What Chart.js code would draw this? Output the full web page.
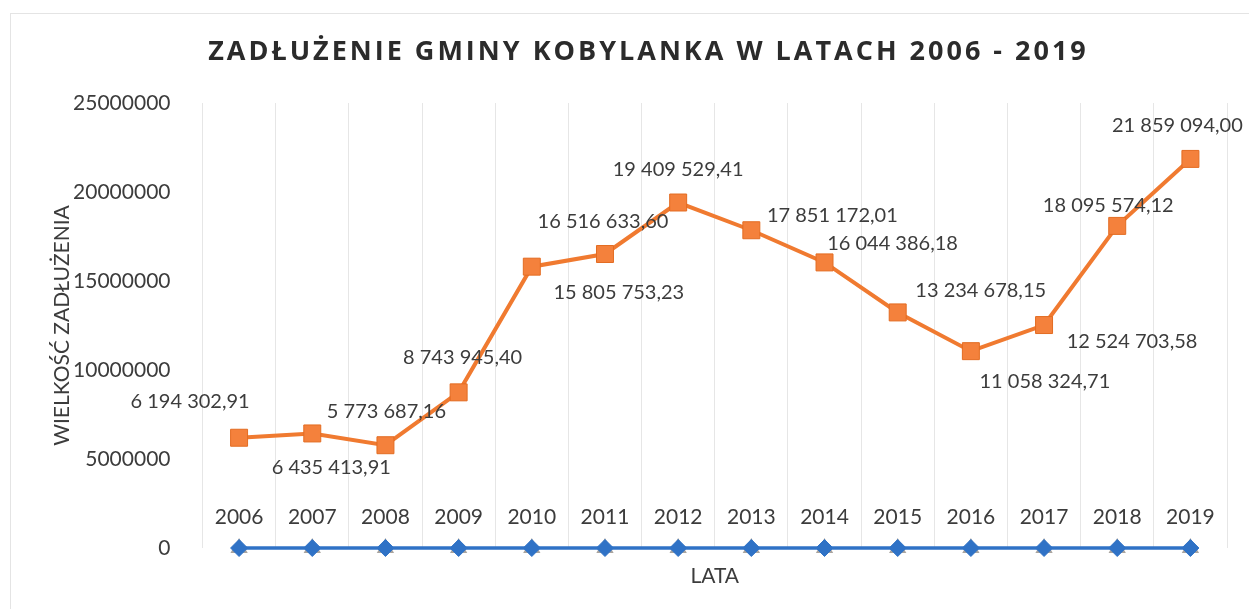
<!DOCTYPE html>
<html>
<head>
<meta charset="utf-8">
<script src="https://cdn.jsdelivr.net/npm/chart.js@4"></script>
<style>
  html, body { margin: 0; padding: 0; background: #fff; }
  #wrap { position: relative; width: 1249px; height: 609px; }
  #frame { position: absolute; left: 10px; top: 13px; right: -2px; bottom: -2px; border: 1px solid #e4e4e4; }
  #title {
    position: absolute; left: 0; width: 1297px; top: 31px; margin: 0;
    text-align: center; font: bold 27px "Liberation Sans Narrow", "Open Sans", sans-serif; letter-spacing: 3px; color: #2b2b2b;
  }
  canvas { position: absolute; left: 0; top: 0; }
</style>
</head>
<body>
<div id="wrap">
  <div id="frame"></div>
  <canvas id="debtChart" width="1249" height="609"></canvas>
  <h1 id="title">ZADŁUŻENIE GMINY KOBYLANKA W LATACH 2006 - 2019</h1>
</div>
<script>
// lata i wartości zadłużenia
var years = ['2006', '2007', '2008', '2009', '2010', '2011', '2012', '2013', '2014', '2015', '2016', '2017', '2018', '2019'];
var debt = [6194302.91, 6435413.91, 5773687.16, 8743945.40, 15805753.23, 16516633.60, 19409529.41,
            17851172.01, 16044386.18, 13234678.15, 11058324.71, 12524703.58, 18095574.12, 21859094.00];
var zeroSeries = [0, 0, 0, 0, 0, 0, 0, 0, 0, 0, 0, 0, 0, 0];
var yTicks = [0, 5000000, 10000000, 15000000, 20000000, 25000000];

// przesunięcia etykiet danych względem punktów (px)
var labelShift = [[-49, -36], [19, 34], [1, -34], [4, -35], [87, 26], [-2, -32], [0, -33],
                  [81, -15], [68, -19], [83, -22], [74, 30], [88, 16], [-9, -20], [-13, -33]];

function fmtPl(v) {
    var parts = v.toFixed(2).split('.');
    return parts[0].replace(/\B(?=(\d{3})+(?!\d))/g, ' ') + ',' + parts[1];
}

var textColor = '#3c3c3c';

var dataLabels = {
    id: 'dataLabels',
    afterDatasetsDraw: function (chart) {
        var ctx = chart.ctx;
        ctx.save();
        ctx.fillStyle = textColor;
        ctx.textAlign = 'center';
        ctx.textBaseline = 'middle';
        // lata nad osią zerową (jak w oryginale)
        ctx.font = '21px Lato, sans-serif';
        var xs = chart.scales.x;
        years.forEach(function (y, i) {
            ctx.fillText(y, xs.getPixelForValue(i), chart.scales.y.getPixelForValue(0) - 31);
        });
        // etykiety danych
        ctx.font = '20px Lato, sans-serif';
        var meta = chart.getDatasetMeta(2);
        meta.data.forEach(function (pt, i) {
            ctx.fillText(fmtPl(debt[i]), pt.x + labelShift[i][0], pt.y + labelShift[i][1]);
        });
        ctx.restore();
    }
};

var ctx = document.getElementById('debtChart').getContext('2d');
var debtChart = new Chart(ctx, {
    type: 'line',
    data: {
        labels: years,
        datasets: [
            {
                label: 'Seria 1',
                data: zeroSeries,
                borderColor: '#2f72c6',
                backgroundColor: '#2f72c6',
                borderWidth: 3.5,
                pointStyle: 'rectRot',
                pointRadius: 8.5,
                pointBorderWidth: 1,
                clip: false
            },
            {
                label: 'Seria 2',
                data: zeroSeries,
                borderColor: '#a9a49f',
                backgroundColor: '#a9a49f',
                borderWidth: 0,
                showLine: false,
                pointStyle: 'triangle',
                pointRadius: 10,
                clip: false
            },
            {
                label: 'Zadłużenie',
                data: debt,
                borderColor: '#f07a30',
                backgroundColor: '#f4813c',
                borderWidth: 4,
                pointStyle: 'rect',
                pointRadius: 12,
                pointBorderColor: '#e36c22',
                pointBorderWidth: 1,
                clip: false
            }
        ]
    },
    options: {
        responsive: false,
        animation: false,
        layout: { padding: { top: 103, right: 22, bottom: 0, left: 0 } },
        plugins: {
            legend: { display: false },
            tooltip: { enabled: false }
        },
        scales: {
            x: {
                offset: true,
                grid: { display: true, offset: true, color: '#e6e6e6', drawTicks: false },
                border: { display: false },
                ticks: { display: false },
                title: { display: true, text: 'LATA', color: textColor, font: { family: 'Lato', size: 21 }, padding: { top: 0, bottom: 20 } },
                afterFit: function (s) { s.height = 61; }
            },
            y: {
                min: 0,
                max: 25000000,
                afterBuildTicks: function (s) { s.ticks = yTicks.map(function (v) { return { value: v }; }); },
                grid: { display: false },
                border: { display: false },
                ticks: { color: textColor, font: { family: 'Lato', size: 21 }, padding: 24,
                         callback: function (v) { return String(v); } },
                title: { display: true, text: 'WIELKOŚĆ ZADŁUŻENIA', color: textColor, font: { family: 'Lato', size: 21 }, padding: { top: 50 } },
                afterFit: function (s) { s.width = 202.5; }
            }
        }
    },
    plugins: [dataLabels]
});
</script>
</body>
</html>
